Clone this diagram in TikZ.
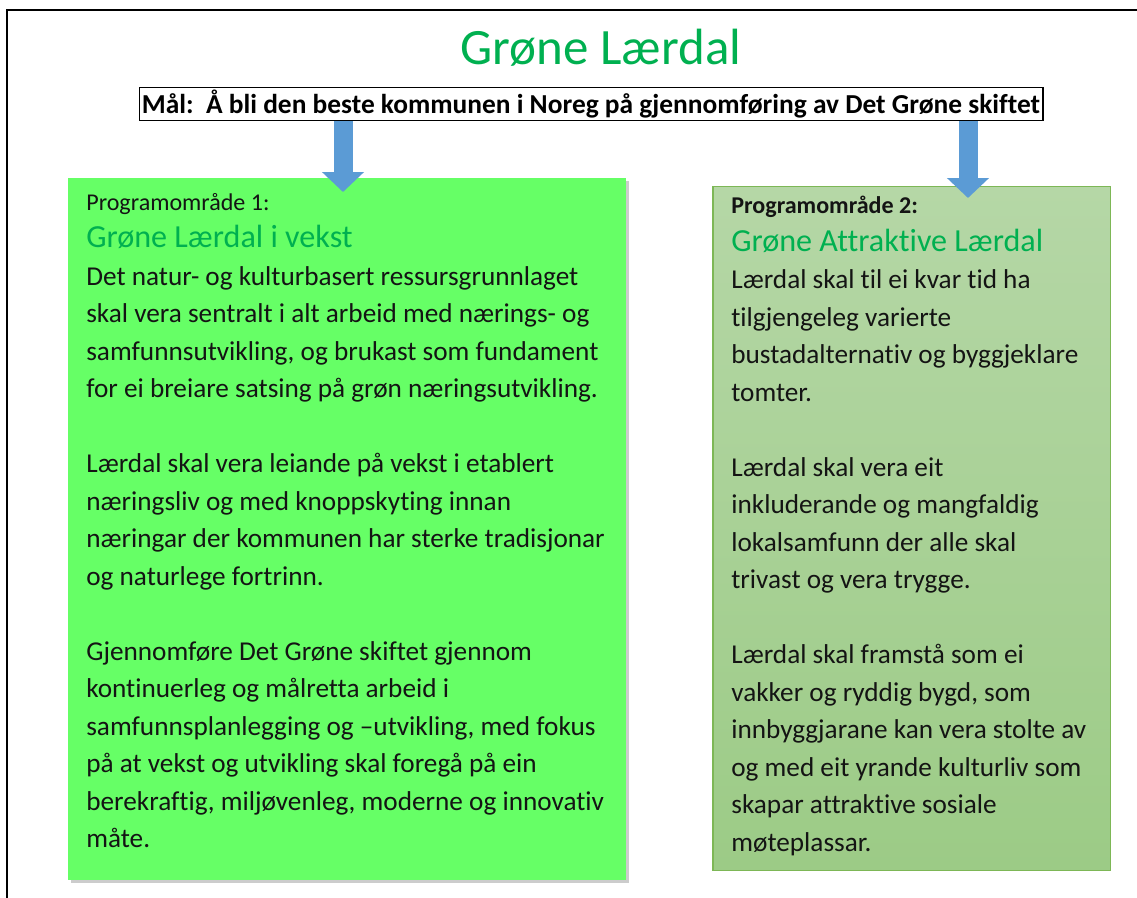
\documentclass[tikz,border=0pt]{standalone}
\usepackage{fontspec}
\setmainfont{Carlito}[Ligatures=NoCommon]
\usetikzlibrary{arrows.meta,positioning,calc,shadows}
\definecolor{titlegreen}{HTML}{00B050}
\definecolor{limegreen}{HTML}{66FF66}
\definecolor{sagetop}{HTML}{B5D7A6}
\definecolor{sagebottom}{HTML}{9CCB86}
\definecolor{sageedge}{HTML}{7DB756}
\definecolor{arrowblue}{HTML}{5B9BD5}
\definecolor{darktext}{HTML}{141414}

\tikzset{
  progbox/.style={anchor=north west, inner sep=0pt},
  progtext/.style={anchor=north west, inner sep=0pt, align=left, text=darktext,
    font=\fontsize{15.5}{21.34}\selectfont},
  fatarrow/.style={draw=arrowblue, line width=0.38cm, -{Triangle[length=0.4cm,width=0.82cm]}},
}

\begin{document}
\begin{tikzpicture}[x=0.02cm, y=-0.02cm]
\useasboundingbox (0,0) rectangle (1137,898);
\draw[line width=0.05cm] (7,898) -- (7,10) -- (1137,10);

\node (title) at (601,48) {\fontsize{29}{33}\selectfont\color{titlegreen} Grøne Lærdal};
\node[draw, line width=0.03cm, inner sep=1.5pt] (goal) at (591,104)
  {\bfseries\fontsize{15.6}{18}\selectfont Mål:\ \ Å bli den beste kommunen i Noreg på gjennomføring av Det Grøne skiftet};

% programområde 1
\node[progbox, fill=limegreen, minimum width=11.16cm, minimum height=14.04cm,
  drop shadow={shadow xshift=0.05cm, shadow yshift=-0.06cm, fill=black!40, opacity=0.5}] (prog1) at (68,178) {};
\node[progtext] (text1) at (86,193) {%
{\fontsize{13.7}{21.34}\selectfont Programområde 1:}\\
{\fontsize{18.3}{21.34}\selectfont\color{titlegreen} Grøne Lærdal i vekst}\\
Det natur- og kulturbasert ressursgrunnlaget\\
skal vera sentralt i alt arbeid med nærings- og\\
samfunnsutvikling, og brukast som fundament\\
for ei breiare satsing på grøn næringsutvikling.\\[0.75cm]
Lærdal skal vera leiande på vekst i etablert\\
næringsliv og med knoppskyting innan\\
næringar der kommunen har sterke tradisjonar\\
og naturlege fortrinn.\\[0.75cm]
Gjennomføre Det Grøne skiftet gjennom\\
kontinuerleg og målretta arbeid i\\
samfunnsplanlegging og –utvikling, med fokus\\
på at vekst og utvikling skal foregå på ein\\
berekraftig, miljøvenleg, moderne og innovativ\\
måte.};

% programområde 2
\node[progbox, draw=sageedge, line width=0.03cm, top color=sagetop, bottom color=sagebottom,
  minimum width=7.96cm, minimum height=13.68cm] (prog2) at (712,186) {};
\node[progtext] (text2) at (731,196) {%
{\bfseries\fontsize{13.7}{21.34}\selectfont Programområde 2:}\\
{\fontsize{18.3}{21.34}\selectfont\color{titlegreen} Grøne Attraktive Lærdal}\\
Lærdal skal til ei kvar tid ha\\
tilgjengeleg varierte\\
bustadalternativ og byggjeklare\\
tomter.\\[0.75cm]
Lærdal skal vera eit\\
inkluderande og mangfaldig\\
lokalsamfunn der alle skal\\
trivast og vera trygge.\\[0.75cm]
Lærdal skal framstå som ei\\
vakker og ryddig bygd, som\\
innbyggjarane kan vera stolte av\\
og med eit yrande kulturliv som\\
skapar attraktive sosiale\\
møteplassar.};

% piler frå målet
\coordinate (tip1) at (343,192);
\coordinate (tip2) at (968,198);
\draw[fatarrow] (goal.south -| tip1) -- (tip1);
\draw[fatarrow] (goal.south -| tip2) -- (tip2);
\end{tikzpicture}
\end{document}
